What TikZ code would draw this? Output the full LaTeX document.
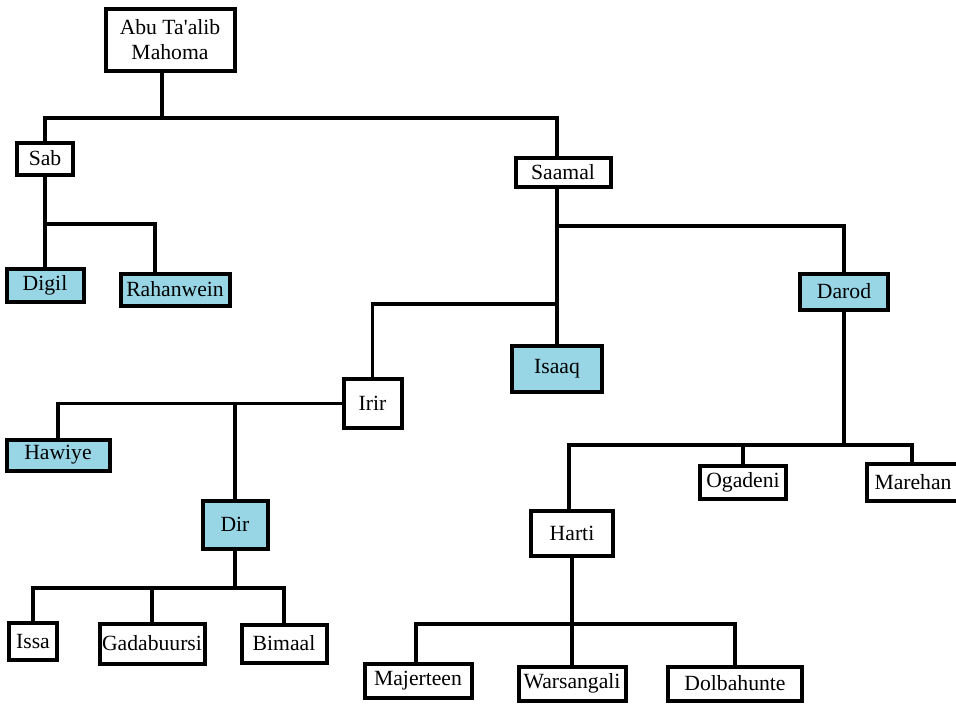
\documentclass[tikz,border=0pt]{standalone}
\usepackage{fontspec}
\setmainfont{Liberation Serif}
\usetikzlibrary{calc}
\definecolor{clanblue}{RGB}{152,214,230}
\tikzset{
  clan/.style={draw, line width=3pt, inner sep=1pt, font=\fontsize{16.25}{19}\selectfont},
  mainclan/.style={clan, fill=clanblue},
  link/.style={line width=2.8pt}
}

\begin{document}
\begin{tikzpicture}[x=0.75pt, y=-0.75pt]

\clip (0,0) rectangle (956,704);

% nodes
\node[clan, align=center, minimum width=96.75pt, minimum height=46.5pt] (abu) at (170,39.5) {Abu Ta\textquotesingle alib\\Mahoma};
\node[clan, minimum width=42pt, minimum height=24pt] (sab) at (45,158.5) {Sab};
\node[clan, minimum width=71.25pt, minimum height=21.75pt] (saamal) at (563,172) {Saamal};
\node[mainclan, minimum width=57.75pt, minimum height=24.75pt] (digil) at (45,285) {Digil};
\node[mainclan, minimum width=81.75pt, minimum height=24pt] (rahan) at (175,289.5) {Rahanwein};
\node[mainclan, minimum width=66pt, minimum height=27pt] (darod) at (844,291.5) {Darod};
\node[mainclan, minimum width=67.5pt, minimum height=34.5pt] (isaaq) at (557,368.5) {Isaaq};
\node[clan, minimum width=43.5pt, minimum height=36.75pt] (irir) at (372.5,403.5) {Irir};
\node[mainclan, minimum width=77.25pt, minimum height=23.25pt] (hawiye) at (58,455) {Hawiye};
\node[mainclan, minimum width=48.75pt, minimum height=36pt] (dir) at (235,524.5) {Dir};
\node[clan, minimum width=36pt, minimum height=27.75pt] (issa) at (33,641) {Issa};
\node[clan, minimum width=78.75pt, minimum height=30pt] (gada) at (152,643.5) {Gadabuursi};
\node[clan, minimum width=63.75pt, minimum height=28.5pt] (bimaal) at (284,643.5) {Bimaal};
\node[clan, minimum width=64.5pt, minimum height=24.75pt] (ogadeni) at (743,482) {Ogadeni};
\node[clan, minimum width=69pt, minimum height=27.75pt] (marehan) at (913,482) {Marehan};
\node[clan, minimum width=61.5pt, minimum height=33.75pt] (harti) at (572,533) {Harti};
\node[clan, minimum width=80.25pt, minimum height=25.5pt] (majerteen) at (418,680.5) {Majerteen};
\node[clan, minimum width=80.25pt, minimum height=25.5pt] (warsangali) at (572,683.5) {Warsangali};
\node[clan, minimum width=100.5pt, minimum height=25.5pt] (dolbahunte) at (735,683.5) {Dolbahunte};

% bus points
\coordinate (abubus) at (162,118);
\coordinate (sabbus) at (45,224);
\coordinate (saamalbus) at (557,226);
\coordinate (irirbus) at (557,304);
\coordinate (dirbus) at (235,588);
\coordinate (darodbus) at (844,445);
\coordinate (hartibus) at (572,624);

% connectors
\draw[link] ([xshift=-6pt]abu.south) -- (abubus);
\draw[link] (sab.north) |- (abubus) -| ([xshift=-4.5pt]saamal.north);

\draw[link] (sab.south) -- (digil.north);
\draw[link] (sabbus) -| ([xshift=-15pt]rahan.north);

\draw[link] ([xshift=-4.5pt]saamal.south) -- (isaaq.north);
\draw[link] (saamalbus) -| (darod.north);
\draw[link] (irirbus) -| (irir.north);

\draw[link] (irir.west) -| (hawiye.north);
\draw[link] (dir.north) -- (dir.north |- irir.west);

\draw[link] (dir.south) -- (dirbus);
\draw[link] (issa.north) |- (dirbus) -| (bimaal.north);
\draw[link] (gada.north) -- (gada.north |- dirbus);

\draw[link] (darod.south) -- (darodbus);
\draw[link] ([xshift=-2.25pt]harti.north) |- (darodbus) -| ([xshift=-0.75pt]marehan.north);
\draw[link] (ogadeni.north) -- (ogadeni.north |- darodbus);

\draw[link] (harti.south) -- (warsangali.north);
\draw[link] ([xshift=-1.5pt]majerteen.north) |- (hartibus) -| (dolbahunte.north);

\end{tikzpicture}
\end{document}
